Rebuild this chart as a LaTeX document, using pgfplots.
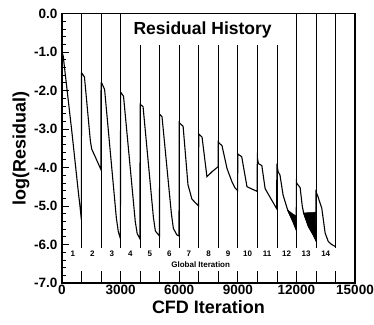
\documentclass[border=0pt]{standalone}
\usepackage{fontspec}
\setmainfont{Liberation Sans}
\usepackage{pgfplots}
\pgfplotsset{compat=1.18}
\begin{document}
\begin{tikzpicture}
\useasboundingbox (-62pt,-41pt) rectangle (312pt,283pt);
\begin{axis}[
  at={(0pt,0pt)}, anchor=south west,
  scale only axis, width=293pt, height=269.5pt,
  xmin=0, xmax=15000, ymin=-7, ymax=0,
  scaled x ticks=false,
  xtick={0,3000,6000,9000,12000,15000},
  xticklabels={0,3000,6000,9000,12000,15000},
  ytick={-7,-6,-5,-4,-3,-2,-1,0},
  yticklabels={-7.0,-6.0,-5.0,-4.0,-3.0,-2.0,-1.0,0.0},
  minor y tick num=4,
  tick pos=left, tick align=inside,
  major tick length=7pt, minor tick length=4pt,
  every tick/.style={black, line width=0.8pt},
  axis line style={line width=1.2pt},
  ticklabel style={font=\bfseries\fontsize{13.5}{14}\selectfont},
  xticklabel style={yshift=1pt},
  yticklabel style={xshift=-1pt},
  xlabel={CFD Iteration}, ylabel={log(Residual)},
  label style={font=\bfseries\fontsize{18}{18}\selectfont},
  xlabel style={yshift=2pt},
  ylabel style={yshift=-2pt},
  unbounded coords=jump,
]
% vertical global-iteration lines
\addplot[black, line width=0.7pt] coordinates {
(1000,0) (1000,-6.1) (1000,nan) (1000,-6.7) (1000,-7) (1000,nan)
(2000,0) (2000,-6.1) (2000,nan) (2000,-6.7) (2000,-7) (2000,nan)
(3000,0) (3000,-6.1) (3000,nan) (3000,-6.7) (3000,-7) (3000,nan)
(4000,-0.82) (4000,-6.1) (4000,nan) (4000,-6.7) (4000,-7) (4000,nan)
(5000,-0.82) (5000,-6.1) (5000,nan) (5000,-6.7) (5000,-7) (5000,nan)
(6000,-0.82) (6000,-6.1) (6000,nan) (6000,-6.7) (6000,-7) (6000,nan)
(7000,-0.82) (7000,-6.1) (7000,nan) (7000,-6.7) (7000,-7) (7000,nan)
(8000,-0.82) (8000,-6.1) (8000,nan) (8000,-6.7) (8000,-7) (8000,nan)
(9000,-0.82) (9000,-6.1) (9000,nan) (9000,-6.7) (9000,-7) (9000,nan)
(10000,-0.82) (10000,-6.1) (10000,nan) (10000,-6.7) (10000,-7) (10000,nan)
(11000,-0.82) (11000,-6.1) (11000,nan) (11000,-6.7) (11000,-7) (11000,nan)
(12000,0) (12000,-6.1) (12000,nan) (12000,-6.7) (12000,-7) (12000,nan)
(13000,0) (13000,-6.1) (13000,nan) (13000,-6.7) (13000,-7) (13000,nan)
(14000,0) (14000,-6.1) (14000,nan) (14000,-6.7) (14000,-7)
};
% residual history
\addplot[black, line width=1.1pt] coordinates {
(0,-1.0) (60,-1.1) (500,-3.05) (850,-4.7) (920,-5.0) (990,-5.35)
(1000,-1.55) (1020,-1.55) (1150,-1.65) (1450,-3.3) (1520,-3.52) (1700,-3.72) (1990,-4.05)
(2000,-1.8) (2030,-1.8) (2180,-1.97) (2780,-5.3) (2880,-5.66) (2990,-5.85)
(3000,-2.05) (3030,-2.06) (3150,-2.15) (3750,-5.4) (3850,-5.72) (3990,-5.85)
(4000,-2.36) (4030,-2.37) (4150,-2.42) (4680,-5.3) (4780,-5.65) (4990,-5.78)
(5000,-2.62) (5030,-2.63) (5120,-2.68) (5600,-5.2) (5700,-5.58) (5880,-5.75) (5990,-5.78)
(6000,-2.83) (6030,-2.85) (6200,-2.93) (6450,-4.45) (6650,-4.82) (6990,-5.0)
(7000,-3.13) (7030,-3.14) (7170,-3.21) (7420,-4.24) (7700,-4.1) (7990,-3.98)
(8000,-3.34) (8030,-3.36) (8190,-3.43) (8450,-4.03) (8700,-4.37) (8860,-4.53) (8990,-4.6)
(9000,-3.65) (9030,-3.66) (9200,-3.72) (9470,-4.5) (9990,-4.62)
(10000,-3.75) (10060,-3.9) (10230,-3.95) (10400,-4.55) (10990,-5.07)
(11000,-3.9) (11060,-4.1) (11160,-4.2) (11320,-4.72) (11550,-5.1) (11800,-5.38) (11990,-5.62)
(12000,-4.38) (12030,-4.42) (12190,-4.52) (12300,-5.0) (12370,-5.18) (12610,-5.53) (12870,-5.76) (12990,-5.89)
(13000,-4.63) (13030,-4.66) (13100,-4.75) (13300,-5.06) (13470,-5.7) (13630,-5.92) (13800,-6.0) (13990,-6.05)
};
% oscillation bands
\addplot[fill=black, draw=black, line width=0.5pt] coordinates {
(11550,-5.1) (11800,-5.2) (11990,-5.26) (11990,-5.62) (11800,-5.38) (11550,-5.12)} -- cycle;
\addplot[fill=black, draw=black, line width=0.5pt] coordinates {
(12370,-5.18) (12700,-5.17) (12990,-5.16) (12990,-5.89) (12870,-5.76) (12610,-5.53) (12370,-5.2)} -- cycle;
% title
\node[font=\bfseries\fontsize{17.5}{18}\selectfont] at (axis cs:7200,-0.42) {Residual History};
% global iteration numbers
\begin{scope}[every node/.style={font=\bfseries\fontsize{8}{8}\selectfont}]
\node at (axis cs:550,-6.25) {1};
\node at (axis cs:1550,-6.25) {2};
\node at (axis cs:2550,-6.25) {3};
\node at (axis cs:3500,-6.25) {4};
\node at (axis cs:4500,-6.25) {5};
\node at (axis cs:5500,-6.25) {6};
\node at (axis cs:6500,-6.25) {7};
\node at (axis cs:7500,-6.25) {8};
\node at (axis cs:8500,-6.25) {9};
\node at (axis cs:9500,-6.25) {10};
\node at (axis cs:10500,-6.25) {11};
\node at (axis cs:11500,-6.25) {12};
\node at (axis cs:12500,-6.25) {13};
\node at (axis cs:13500,-6.25) {14};
\node at (axis cs:7100,-6.53) {Global Iteration};
\end{scope}
\end{axis}
\end{tikzpicture}
\end{document}
